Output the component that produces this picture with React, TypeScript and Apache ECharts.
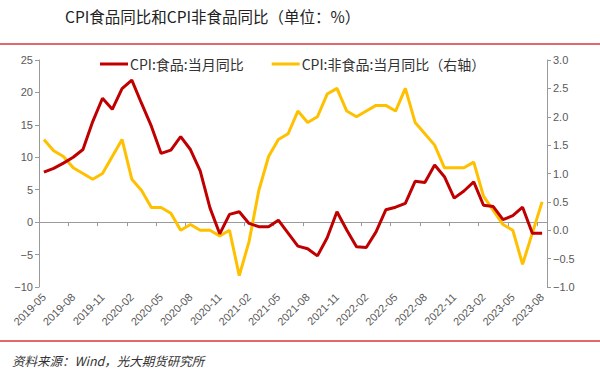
import React, { useEffect, useRef } from "react";
import * as echarts from "echarts";

const categories = [
  "2019-05","2019-06","2019-07","2019-08","2019-09","2019-10","2019-11","2019-12",
  "2020-01","2020-02","2020-03","2020-04","2020-05","2020-06","2020-07","2020-08","2020-09","2020-10","2020-11","2020-12",
  "2021-01","2021-02","2021-03","2021-04","2021-05","2021-06","2021-07","2021-08","2021-09","2021-10","2021-11","2021-12",
  "2022-01","2022-02","2022-03","2022-04","2022-05","2022-06","2022-07","2022-08","2022-09","2022-10","2022-11","2022-12",
  "2023-01","2023-02","2023-03","2023-04","2023-05","2023-06","2023-07","2023-08",
];

const foodYoY = [
  7.7, 8.3, 9.1, 10.0, 11.2, 15.5, 19.1, 17.4,
  20.6, 21.9, 18.3, 14.8, 10.6, 11.1, 13.2, 11.2, 7.9, 2.2, -1.8, 1.2,
  1.6, -0.2, -0.7, -0.7, 0.3, -1.7, -3.7, -4.1, -5.2, -2.4, 1.6, -1.2,
  -3.8, -3.9, -1.5, 1.9, 2.3, 2.9, 6.3, 6.1, 8.8, 7.0, 3.7, 4.8,
  6.2, 2.6, 2.4, 0.4, 1.0, 2.3, -1.7, -1.7,
];

const nonFoodYoY = [
  1.6, 1.4, 1.3, 1.1, 1.0, 0.9, 1.0, 1.3,
  1.6, 0.9, 0.7, 0.4, 0.4, 0.3, 0.0, 0.1, 0.0, 0.0, -0.1, 0.0,
  -0.8, -0.2, 0.7, 1.3, 1.6, 1.7, 2.1, 1.9, 2.0, 2.4, 2.5, 2.1,
  2.0, 2.1, 2.2, 2.2, 2.1, 2.5, 1.9, 1.7, 1.5, 1.1, 1.1, 1.1,
  1.2, 0.6, 0.35, 0.1, 0.0, -0.6, -0.05, 0.5,
];

const leftTicks = { min: -10, max: 25, interval: 5 };
const rightTicks = { min: -1, max: 3, interval: 0.5 };

const titleText = "CPI食品同比和CPI非食品同比（单位：%）";
const sourceText = "资料来源：Wind，光大期货研究所";
const foodName = "CPI:食品:当月同比";
const nonFoodName = "CPI:非食品:当月同比（右轴）";

const FONT = "'Noto Sans CJK SC', 'Noto Sans', sans-serif";
const AXIS_COLOR = "#9a9a9a";
const LABEL_COLOR = "#595959";

export default function App() {
  const ref = useRef<HTMLDivElement>(null);
  useEffect(() => {
    if (!ref.current) return;
    const chart = echarts.init(ref.current, undefined, { renderer: "svg" });
    const fmtMinus = (v: number, digits: number) =>
      v.toFixed(digits).replace("-", "−");
    chart.setOption({
      animation: false,
      backgroundColor: "#ffffff",
      textStyle: { fontFamily: FONT },
      graphic: [
        {
          type: "text",
          left: 65,
          top: 8,
          style: { text: titleText, fontSize: 15.5, fontFamily: FONT, fill: "#222222" },
        },
        {
          type: "line",
          shape: { x1: 0, y1: 44, x2: 600, y2: 44 },
          style: { stroke: "#d9363e", lineWidth: 1.5 },
        },
        {
          type: "line",
          shape: { x1: 0, y1: 341, x2: 600, y2: 341 },
          style: { stroke: "#d9363e", lineWidth: 1.5 },
        },
        {
          type: "text",
          left: 12,
          top: 354,
          style: {
            text: sourceText,
            fontSize: 12.5,
            fontStyle: "italic",
            fontFamily: FONT,
            fill: "#333333",
          },
        },
      ],
      legend: {
        left: 95,
        top: 52,
        itemWidth: 28,
        itemHeight: 3,
        itemGap: 28,
        icon: "rect",
        textStyle: { fontSize: 14, color: "#333333", fontFamily: FONT, padding: [0, 0, 0, -3] },
        data: [foodName, nonFoodName],
      },
      grid: { left: 39, right: 53, top: 60, bottom: 90 },
      xAxis: [
        {
          type: "category",
          data: categories,
          boundaryGap: true,
          position: "bottom",
          axisLine: { show: false, onZero: false },
          axisTick: { show: false },
          axisLabel: {
            interval: 2,
            rotate: 45,
            fontSize: 11,
            color: LABEL_COLOR,
            margin: 8,
            fontFamily: "'Liberation Sans', Arial, sans-serif",
          },
        },
        {
          type: "category",
          data: categories,
          boundaryGap: true,
          position: "bottom",
          axisLine: { show: true, onZero: true, onZeroAxisIndex: 0, lineStyle: { color: AXIS_COLOR, width: 1 } },
          axisTick: { show: true, interval: 2, length: 4, lineStyle: { color: AXIS_COLOR } },
          axisLabel: { show: false },
        },
      ],
      yAxis: [
        {
          type: "value",
          min: leftTicks.min,
          max: leftTicks.max,
          interval: leftTicks.interval,
          position: "left",
          splitLine: { show: false },
          axisLine: { show: true, onZero: false, lineStyle: { color: AXIS_COLOR } },
          axisTick: { show: true, length: 4, lineStyle: { color: AXIS_COLOR } },
          axisLabel: {
            color: LABEL_COLOR,
            fontSize: 11,
            margin: 6,
            fontFamily: "'Liberation Sans', Arial, sans-serif",
            formatter: (v: number) => fmtMinus(v, 0),
          },
        },
        {
          type: "value",
          min: rightTicks.min,
          max: rightTicks.max,
          interval: rightTicks.interval,
          position: "right",
          splitLine: { show: false },
          axisLine: { show: true, onZero: false, lineStyle: { color: AXIS_COLOR } },
          axisTick: { show: true, length: 4, lineStyle: { color: AXIS_COLOR } },
          axisLabel: {
            color: LABEL_COLOR,
            fontSize: 11,
            margin: 6,
            fontFamily: "'Liberation Sans', Arial, sans-serif",
            formatter: (v: number) => fmtMinus(v, 1),
          },
        },
      ],
      series: [
        {
          name: foodName,
          type: "line",
          xAxisIndex: 0,
          yAxisIndex: 0,
          data: foodYoY,
          symbol: "none",
          color: "#c00000",
          lineStyle: { width: 3, color: "#c00000" },
          z: 3,
        },
        {
          name: nonFoodName,
          type: "line",
          xAxisIndex: 0,
          yAxisIndex: 1,
          data: nonFoodYoY,
          symbol: "none",
          color: "#ffc000",
          lineStyle: { width: 3, color: "#ffc000" },
          z: 2,
        },
      ],
    });
    return () => chart.dispose();
  }, []);
  return (
    <div
      ref={ref}
      style={{ position: "fixed", left: 0, top: 0, width: 600, height: 377, background: "#fff" }}
    />
  );
}
